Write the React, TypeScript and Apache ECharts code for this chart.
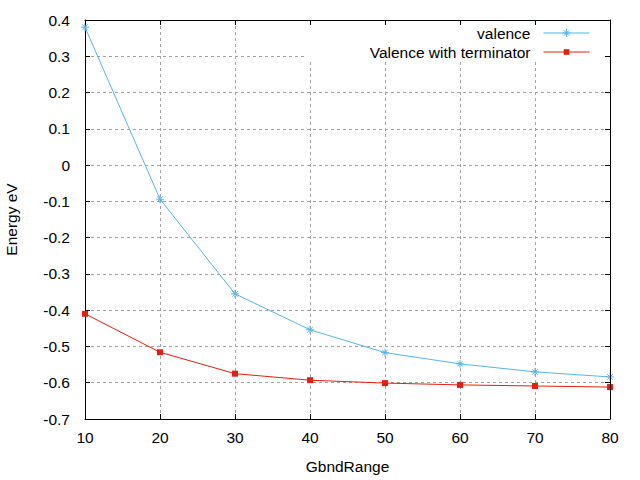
import React, { useEffect, useRef } from "react";
import * as echarts from "echarts";

const xValues = [10, 20, 30, 40, 50, 60, 70, 80];
const valence = [0.38, -0.094, -0.355, -0.454, -0.517, -0.548, -0.57, -0.584];
const valenceTerm = [-0.41, -0.516, -0.575, -0.593, -0.601, -0.606, -0.609, -0.612];
const seriesNames = ["valence", "Valence with terminator"];
const xAxisName = "GbndRange";
const yAxisName = "Energy eV";

const FONT = "Liberation Sans, Arial, sans-serif";
const FS = 15.5;
const BLUE = "#56b4e9";
const RED = "#e51e10";
const STAR = "path://M0,5 L10,5 M5,0 L5,10 M1.5,1.5 L8.5,8.5 M1.5,8.5 L8.5,1.5";

export default function App() {
  const ref = useRef<HTMLDivElement>(null);
  useEffect(() => {
    if (!ref.current) return;
    const chart = echarts.init(ref.current, null, { renderer: "svg" });
    const mirrorX = { type: "value", min: 10, max: 80, interval: 10 };
    const mirrorY = { type: "value", min: -0.7, max: 0.4, interval: 0.1 };
    const axisLine = { show: true, onZero: false, lineStyle: { color: "#000", width: 1 } };
    const axisTick = { show: true, inside: true, length: 5, lineStyle: { color: "#000", width: 1 } };
    const splitLine = { show: true, lineStyle: { color: "#a0a0a0", type: [3, 3], width: 1 } };
    const labelStyle = { color: "#000", fontFamily: FONT, fontSize: FS };
    chart.setOption({
      animation: false,
      backgroundColor: "#fff",
      textStyle: { fontFamily: FONT },
      grid: { left: 85, right: 30, top: 20, bottom: 61, containLabel: false, outerBoundsMode: "none" },
      xAxis: [
        {
          ...mirrorX,
          position: "bottom",
          name: xAxisName,
          nameLocation: "middle",
          nameGap: 39,
          nameTextStyle: labelStyle,
          axisLine,
          axisTick,
          splitLine,
          axisLabel: { ...labelStyle, margin: 10 },
          z: 0,
        },
        {
          ...mirrorX,
          position: "top",
          axisLine,
          axisTick,
          splitLine: { show: false },
          axisLabel: { show: false },
          z: 3,
        },
      ],
      yAxis: [
        {
          ...mirrorY,
          position: "left",
          name: yAxisName,
          nameLocation: "middle",
          nameGap: 66,
          nameRotate: 90,
          nameTextStyle: labelStyle,
          axisLine,
          axisTick,
          splitLine,
          axisLabel: { ...labelStyle, margin: 15 },
          z: 0,
        },
        {
          ...mirrorY,
          position: "right",
          axisLine,
          axisTick,
          splitLine: { show: false },
          axisLabel: { show: false },
          z: 3,
        },
      ],
      graphic: [
        {
          type: "rect",
          z: 1,
          shape: { x: 307, y: 21, width: 302.5, height: 39 },
          style: { fill: "#fff" },
          silent: true,
        },
      ],
      legend: [
        {
          data: [seriesNames[0]],
          right: 50,
          top: 25,
          padding: 0,
          align: "right",
          itemWidth: 46,
          itemHeight: 10,
          itemStyle: { color: "none", borderColor: BLUE, borderWidth: 1 },
          lineStyle: { color: BLUE, width: 1 },
          textStyle: { ...labelStyle, padding: [0, 8, 0, 0] },
          z: 4,
        },
        {
          data: [seriesNames[1]],
          right: 50,
          top: 44,
          padding: 0,
          align: "right",
          itemWidth: 46,
          itemHeight: 7,
          lineStyle: { color: RED, width: 1 },
          textStyle: { ...labelStyle, padding: [0, 8, 0, 0] },
          z: 4,
        },
      ],
      series: [
        {
          name: seriesNames[0],
          type: "line",
          data: xValues.map((x, i) => [x, valence[i]]),
          symbol: STAR,
          symbolSize: 8,
          showAllSymbol: true,
          lineStyle: { color: BLUE, width: 1 },
          itemStyle: { color: "none", borderColor: BLUE, borderWidth: 1 },
          z: 2,
        },
        {
          name: seriesNames[1],
          type: "line",
          data: xValues.map((x, i) => [x, valenceTerm[i]]),
          symbol: "rect",
          symbolSize: 6,
          showAllSymbol: true,
          lineStyle: { color: RED, width: 1 },
          itemStyle: { color: RED },
          z: 2,
        },
      ],
    });
    return () => chart.dispose();
  }, []);
  return <div ref={ref} style={{ width: 640, height: 480, position: "absolute", left: 0, top: 0 }} />;
}
